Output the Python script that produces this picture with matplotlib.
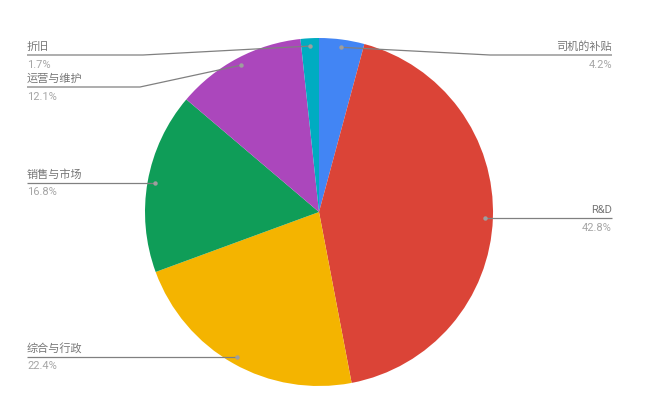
import numpy as np
import matplotlib
matplotlib.use('Agg')
import matplotlib.pyplot as plt

plt.rcParams['font.family'] = ['Roboto', 'Noto Sans CJK SC', 'DejaVu Sans']

categories = ['司机的补贴', 'R&D', '综合与行政', '销售与市场', '运营与维护', '折旧']
shares = [4.2, 42.8, 22.4, 16.8, 12.1, 1.7]
colors = ['#4285f4', '#db4437', '#f4b400', '#0f9d58', '#ab47bc', '#00acc1']

W, H = 646, 396
cx, cy, R = 319, H - 212, 174
left_x, right_x = 27, 612
# crowded labels get their leader line moved (pixel y from top, elbow x)
line_override = {0: (55, 490), 4: (87, 140), 5: (55, 143)}

fig = plt.figure(figsize=(W / 100, H / 100), dpi=100)
ax = fig.add_axes([0, 0, 1, 1])
wedges, _ = ax.pie(shares, colors=colors, startangle=90, counterclock=False,
                   center=(cx, cy), radius=R, wedgeprops=dict(linewidth=0))
ax.set_xlim(0, W)
ax.set_ylim(0, H)
ax.set_aspect('auto')
ax.axis('off')

line_col = '#808080'
for i, w in enumerate(wedges):
    mid = np.deg2rad((w.theta1 + w.theta2) / 2)
    dx = cx + 0.955 * R * np.cos(mid)
    dy = cy + 0.955 * R * np.sin(mid)
    right = np.cos(mid) > 0
    end_x = right_x if right else left_x
    if i in line_override:
        ly, ex = line_override[i]
        ly = H - ly
        xs, ys = [dx, ex, end_x], [dy, ly, ly]
    else:
        ly = dy
        xs, ys = [dx, end_x], [dy, dy]
    ax.plot(xs, ys, color=line_col, lw=0.9, solid_capstyle='butt', zorder=3)
    ax.plot(dx, dy, 'o', ms=3.2, color='#9e9e9e', mec='none', zorder=4)
    ha = 'right' if right else 'left'
    ax.text(end_x, ly + 3, categories[i], ha=ha, va='bottom',
            fontsize=8, color='#777777')
    ax.text(end_x, ly - 4.5, f'{shares[i]}%', ha=ha, va='top',
            fontsize=8, color='#a6a6a6')

fig.savefig('out.png', dpi=100)
